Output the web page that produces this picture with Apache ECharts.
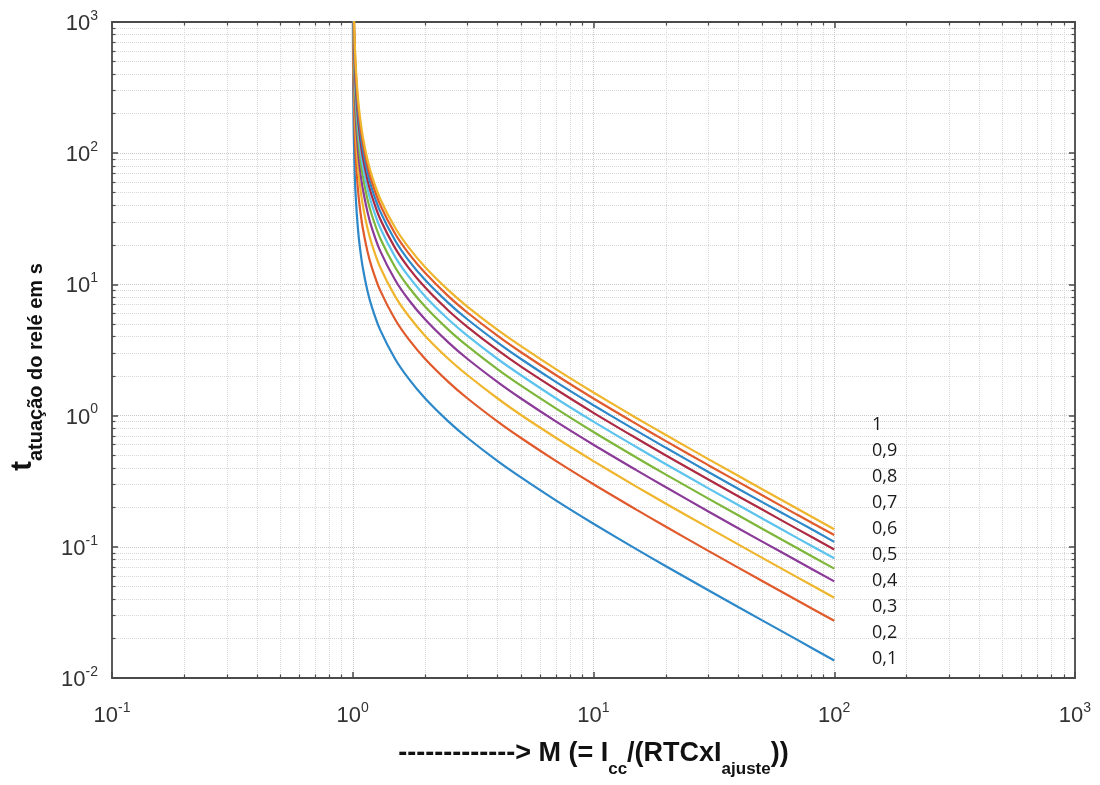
<!DOCTYPE html>
<html><head><meta charset="utf-8">
<script src="https://cdn.jsdelivr.net/npm/echarts@6/dist/echarts.min.js"></script>
<style>html,body{margin:0;padding:0;background:#fff}#c{width:1100px;height:785px}</style>
</head><body><div id="c"></div>
<script>
// Multiplier M values (x) shared by all curves
const M = [1.001, 1.002, 1.005, 1.01, 1.02, 1.03, 1.05, 1.07, 1.1, 1.15, 1.2, 1.3, 1.5, 1.7, 2, 2.5, 3, 4, 5, 7, 10, 15, 20, 30, 50, 70, 100];
// Curve names (time dial settings), as labelled on the chart
const curveNames = ['0,1', '0,2', '0,3', '0,4', '0,5', '0,6', '0,7', '0,8', '0,9', '1'];
// Operating times in seconds, one array per curve
const t01 = [1350, 675, 270, 135, 67.5, 45, 27, 19.3, 13.5, 9, 6.75, 4.5, 2.7, 1.93, 1.35, 0.9, 0.675, 0.45, 0.338, 0.225, 0.15, 0.0964, 0.0711, 0.0466, 0.0276, 0.0196, 0.0136];
const t02 = [2700, 1350, 540, 270, 135, 90, 54, 38.6, 27, 18, 13.5, 9, 5.4, 3.86, 2.7, 1.8, 1.35, 0.9, 0.675, 0.45, 0.3, 0.193, 0.142, 0.0931, 0.0551, 0.0391, 0.0273];
const t03 = [4050, 2025, 810, 405, 203, 135, 81, 57.9, 40.5, 27, 20.3, 13.5, 8.1, 5.79, 4.05, 2.7, 2.03, 1.35, 1.01, 0.675, 0.45, 0.289, 0.213, 0.140, 0.0827, 0.0587, 0.0409];
const t04 = [5400, 2700, 1080, 540, 270, 180, 108, 77.1, 54, 36, 27, 18, 10.8, 7.71, 5.4, 3.6, 2.7, 1.8, 1.35, 0.9, 0.6, 0.386, 0.284, 0.186, 0.110, 0.0783, 0.0545];
const t05 = [6750, 3375, 1350, 675, 338, 225, 135, 96.4, 67.5, 45, 33.8, 22.5, 13.5, 9.64, 6.75, 4.5, 3.38, 2.25, 1.69, 1.13, 0.75, 0.482, 0.355, 0.233, 0.138, 0.0978, 0.0682];
const t06 = [8100, 4050, 1620, 810, 405, 270, 162, 116, 81, 54, 40.5, 27, 16.2, 11.6, 8.1, 5.4, 4.05, 2.7, 2.03, 1.35, 0.9, 0.579, 0.426, 0.279, 0.165, 0.117, 0.0818];
const t07 = [9450, 4725, 1890, 945, 473, 315, 189, 135, 94.5, 63, 47.3, 31.5, 18.9, 13.5, 9.45, 6.3, 4.73, 3.15, 2.36, 1.58, 1.05, 0.675, 0.497, 0.326, 0.193, 0.137, 0.0955];
const t08 = [10800, 5400, 2160, 1080, 540, 360, 216, 154, 108, 72, 54, 36, 21.6, 15.4, 10.8, 7.2, 5.4, 3.6, 2.7, 1.8, 1.2, 0.771, 0.568, 0.372, 0.220, 0.157, 0.109];
const t09 = [12150, 6075, 2430, 1215, 608, 405, 243, 174, 122, 81, 60.8, 40.5, 24.3, 17.4, 12.2, 8.1, 6.08, 4.05, 3.04, 2.03, 1.35, 0.868, 0.639, 0.419, 0.248, 0.176, 0.123];
const t10 = [13500, 6750, 2700, 1350, 675, 450, 270, 193, 135, 90, 67.5, 45, 27, 19.3, 13.5, 9, 6.75, 4.5, 3.38, 2.25, 1.5, 0.964, 0.711, 0.466, 0.276, 0.196, 0.136];
const curveTimes = [t01, t02, t03, t04, t05, t06, t07, t08, t09, t10];
// Legend order (top to bottom)
const legendOrder = ['1', '0,9', '0,8', '0,7', '0,6', '0,5', '0,4', '0,3', '0,2', '0,1'];

const colors = ['#2c88c9', '#e05a2b', '#efb52c', '#8b3a98', '#7db63a', '#5cc3ee', '#ad2a42', '#2c88c9', '#e05a2b', '#efb52c'];

const AX = '#4a4a4a';
const FONT = 'Liberation Sans, Arial, sans-serif';

function tickFmt(v) {
  const e = Math.round(Math.log10(v));
  return '{b|10}{s|' + e + '}';
}
const tickRich = {
  b: {fontSize: 22, fontFamily: FONT, color: '#333', lineHeight: 26, verticalAlign: 'bottom'},
  s: {fontSize: 14, fontFamily: FONT, color: '#333', lineHeight: 14, verticalAlign: 'top'}
};

function mkAxis(pos, showLabel, extra) {
  return Object.assign({
    type: 'log', logBase: 10, position: pos,
    axisLine: {show: true, onZero: false, lineStyle: {color: AX, width: 1.8}},
    axisTick: {show: true, inside: true, length: 6, lineStyle: {color: AX, width: 1.5}},
    minorTick: {show: true, splitNumber: 9, length: 3.5, lineStyle: {color: AX, width: 1.2}},
    splitLine: {show: showLabel, lineStyle: {color: '#c8c8c8', type: 'dotted', width: 1}},
    minorSplitLine: {show: showLabel, lineStyle: {color: '#d8d8d8', type: 'dotted', width: 1}},
    axisLabel: showLabel ? {formatter: tickFmt, rich: tickRich} : {show: false}
  }, extra);
}

const series = curveNames.map(function (name, i) {
  return {
    name: name, type: 'line', xAxisIndex: 0, yAxisIndex: 0,
    data: M.map(function (m, j) { return [m, curveTimes[i][j]]; }),
    smooth: 0.3, showSymbol: false, symbol: 'none', clip: true,
    lineStyle: {width: 2.2, color: colors[i]}, itemStyle: {color: colors[i]},
    z: 3 + i
  };
});

const chart = echarts.init(document.getElementById('c'), null, {renderer: 'canvas'});
chart.setOption({
  animation: false,
  backgroundColor: '#ffffff',
  grid: {left: 112, right: 25, top: 22, bottom: 107, containLabel: false},
  legend: {
    data: legendOrder, orient: 'vertical', left: 867, top: 416,
    icon: 'none', itemWidth: 0, itemHeight: 18, itemGap: 8, padding: 0,
    selectedMode: false,
    textStyle: {fontFamily: 'Open Sans, sans-serif', fontSize: 18, color: '#1a1a1a', lineHeight: 18}
  },
  xAxis: [
    mkAxis('bottom', true, {
      min: 0.1, max: 1000,
      axisLabel: {formatter: tickFmt, rich: tickRich, margin: 23},
      name: '{b|-------------> M (= I}{sub|cc}{b|/(RTCxI}{sub|ajuste}{b|))}',
      nameLocation: 'middle', nameGap: 62,
      nameTextStyle: {
        rich: {
          b: {fontSize: 27, fontWeight: 'bold', fontFamily: FONT, color: '#111', padding: [0, 0, 11, 0], verticalAlign: 'bottom'},
          sub: {fontSize: 17, fontWeight: 'bold', fontFamily: FONT, color: '#111', verticalAlign: 'bottom'}
        }
      }
    }),
    mkAxis('top', false, {min: 0.1, max: 1000})
  ],
  yAxis: [
    mkAxis('left', true, {
      min: 0.01, max: 1000,
      axisLabel: {formatter: tickFmt, rich: tickRich, margin: 14},
      name: '{t|t}{s|atuação do relé em s}',
      nameLocation: 'middle', nameGap: 66, nameRotate: 90,
      nameTextStyle: {
        rich: {
          t: {fontSize: 29, fontWeight: 'bold', fontFamily: FONT, color: '#111', padding: [0, 0, 9, 0], verticalAlign: 'bottom'},
          s: {fontSize: 20, fontWeight: 'bold', fontFamily: FONT, color: '#111', verticalAlign: 'bottom', padding: [0, 34, 0, 0]}
        }
      }
    }),
    mkAxis('right', false, {min: 0.01, max: 1000})
  ],
  series: series
});
</script>
</body></html>
